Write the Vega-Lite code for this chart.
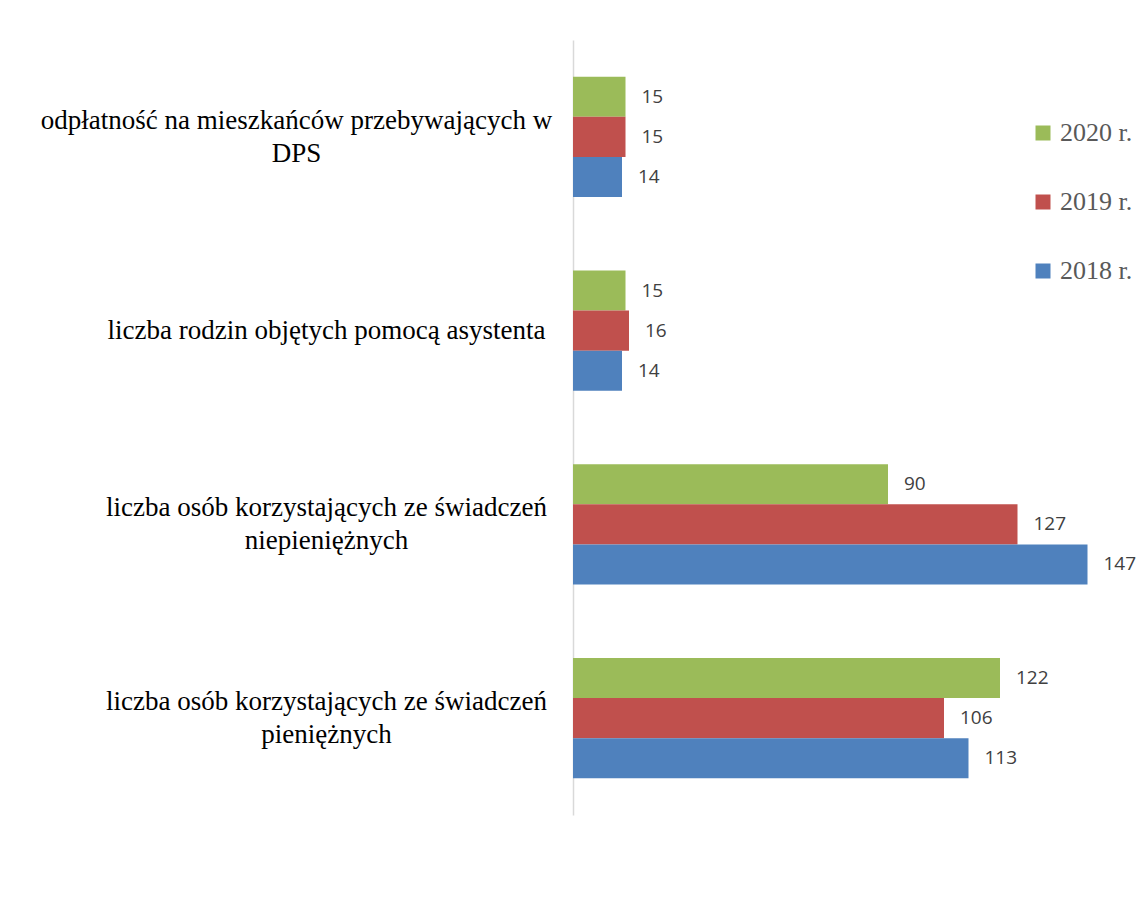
{
  "$schema": "https://vega.github.io/schema/vega-lite/v6.json",
  "autosize": {"type": "none"},
  "padding": {"left": 573, "top": 40, "right": 14, "bottom": 85},
  "width": 560,
  "height": 775,
  "background": "white",
  "config": {"view": {"stroke": null}},
  "data": {
    "values": [
      {"kategoria": "odpłatność na mieszkańców przebywających w|DPS", "rok": "2020 r.", "wartosc": 15},
      {"kategoria": "odpłatność na mieszkańców przebywających w|DPS", "rok": "2019 r.", "wartosc": 15},
      {"kategoria": "odpłatność na mieszkańców przebywających w|DPS", "rok": "2018 r.", "wartosc": 14},
      {"kategoria": "liczba rodzin objętych pomocą asystenta", "rok": "2020 r.", "wartosc": 15},
      {"kategoria": "liczba rodzin objętych pomocą asystenta", "rok": "2019 r.", "wartosc": 16},
      {"kategoria": "liczba rodzin objętych pomocą asystenta", "rok": "2018 r.", "wartosc": 14},
      {"kategoria": "liczba osób korzystających ze świadczeń|niepieniężnych", "rok": "2020 r.", "wartosc": 90},
      {"kategoria": "liczba osób korzystających ze świadczeń|niepieniężnych", "rok": "2019 r.", "wartosc": 127},
      {"kategoria": "liczba osób korzystających ze świadczeń|niepieniężnych", "rok": "2018 r.", "wartosc": 147},
      {"kategoria": "liczba osób korzystających ze świadczeń|pieniężnych", "rok": "2020 r.", "wartosc": 122},
      {"kategoria": "liczba osób korzystających ze świadczeń|pieniężnych", "rok": "2019 r.", "wartosc": 106},
      {"kategoria": "liczba osób korzystających ze świadczeń|pieniężnych", "rok": "2018 r.", "wartosc": 113}
    ]
  },
  "encoding": {
    "y": {
      "field": "kategoria",
      "type": "nominal",
      "sort": [
        "odpłatność na mieszkańców przebywających w|DPS",
        "liczba rodzin objętych pomocą asystenta",
        "liczba osób korzystających ze świadczeń|niepieniężnych",
        "liczba osób korzystających ze świadczeń|pieniężnych"
      ],
      "scale": {"paddingInner": 0.38, "paddingOuter": 0.19},
      "axis": {
        "title": null,
        "ticks": false,
        "tickSize": 0,
        "domainColor": "#D9D9D9",
        "domainWidth": 1.5,
        "labelExpr": "split(datum.label, '|')",
        "labelFont": "Liberation Serif",
        "labelFontSize": 27,
        "labelColor": "#000000",
        "labelAlign": "center",
        "labelBaseline": "middle",
        "labelLineHeight": 33,
        "labelPadding": {"condition": {"test": "indexof(datum.value, 'odpłatność') === 0", "value": 277}, "value": 247},
        "labelOffset": {"condition": {"test": "indexof(datum.value, '|') >= 0", "value": -16}, "value": 0},
        "labelLimit": 0
      }
    },
    "yOffset": {
      "field": "rok",
      "type": "nominal",
      "sort": ["2020 r.", "2019 r.", "2018 r."],
      "scale": {"paddingInner": 0, "paddingOuter": 0}
    },
    "x": {
      "field": "wartosc",
      "type": "quantitative",
      "scale": {"domain": [0, 160]},
      "axis": null
    }
  },
  "layer": [
    {
      "mark": {"type": "bar"},
      "encoding": {
        "color": {
          "field": "rok",
          "type": "nominal",
          "scale": {"domain": ["2020 r.", "2019 r.", "2018 r."], "range": ["#9BBB59", "#C0504D", "#4F81BD"]},
          "legend": {
            "title": null,
            "orient": "none",
            "legendX": 457,
            "legendY": 80,
            "symbolType": "square",
            "symbolSize": 225,
            "symbolStrokeWidth": 0,
            "labelFont": "Liberation Serif",
            "labelFontSize": 26,
            "labelColor": "#595959",
            "labelOffset": 4,
            "labelLimit": 0,
            "rowPadding": 43
          }
        }
      }
    },
    {
      "mark": {"type": "text", "align": "left", "baseline": "middle", "dx": 16, "font": "Open Sans", "fontSize": 19, "color": "#404040"},
      "encoding": {"text": {"field": "wartosc", "type": "quantitative"}}
    }
  ]
}
